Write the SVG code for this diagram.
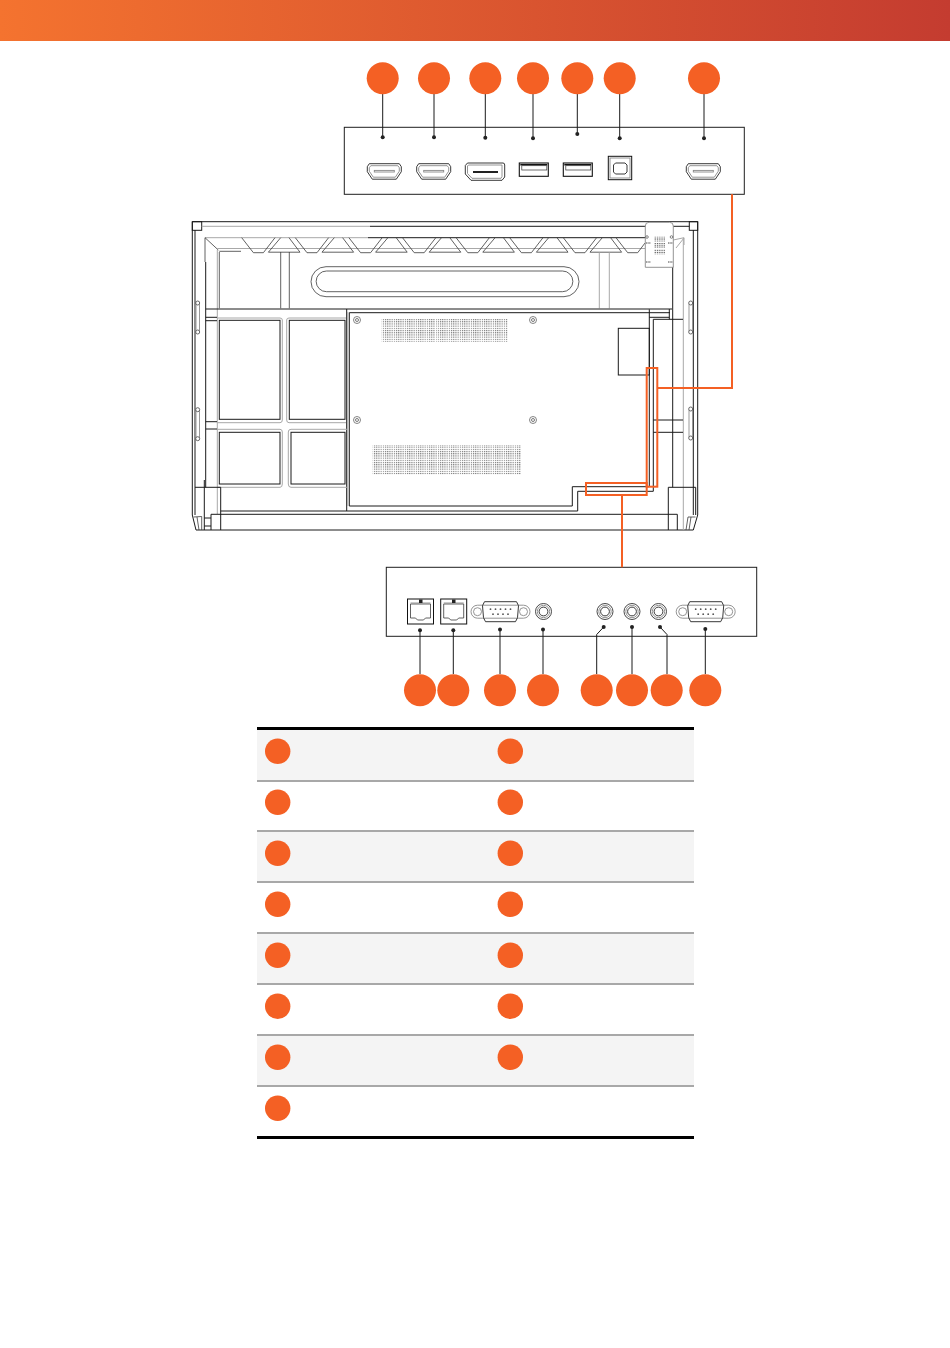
<svg xmlns="http://www.w3.org/2000/svg" width="950" height="1348" viewBox="0 0 950 1348">
<style>
.ln{fill:none;stroke:#1a1a1a;stroke-width:1}
.lg{fill:none;stroke:#a8a8a8;stroke-width:1}
.lm{fill:none;stroke:#3a3a3a;stroke-width:.8}
.port{fill:none;stroke:#222;stroke-width:.9}
.pg{fill:none;stroke:#888;stroke-width:.9}
.lead{fill:none;stroke:#1a1a1a;stroke-width:1}
.or{fill:none;stroke:#f46024;stroke-width:2}
.b{fill:#f46024}
.d{fill:#222}
</style>
<defs>
<linearGradient id="hdr" x1="0" x2="1" y1="0" y2="0"><stop offset="0" stop-color="#f4732f"/><stop offset="1" stop-color="#c43c30"/></linearGradient>
<pattern id="vent" width="2.2" height="2.2" patternUnits="userSpaceOnUse"><rect width="1.1" height="1.1" fill="#707070"/></pattern>
<pattern id="vent2" width="1.8" height="1.8" patternUnits="userSpaceOnUse"><rect width="1" height="1" fill="#555"/></pattern>
<g id="hdmi"><path class="port" d="M2 0H32L34 3V8L29 15.500H5L0 8V3Z"/><path class="pg" d="M3.500 2H30.500L32 4V7.500L28 13.500H6L2 7.500V4Z"/><rect x="7" y="6.700" width="20" height="1.600" class="pg"/></g>
<g id="usbA"><rect width="29" height="13.300" fill="#fff" stroke="#111" stroke-width="1.100"/><rect x="1" y="1" width="27" height="1.500" fill="#111"/><rect x="2.500" y="2.700" width="25" height="4.300" fill="#fff" stroke="#333" stroke-width=".7"/></g>
<g id="rj"><rect width="26" height="25" fill="#fff" stroke="#111" stroke-width="1"/><path class="lm" d="M3 5H23V19H18L16 21H10L8 19H3Z"/><path class="pg" d="M3 4H23"/></g>
<g id="jack"><circle r="8" fill="#fff" stroke="#333" stroke-width=".9"/><circle r="6.200" class="pg"/><circle r="4.400" class="port"/></g>
<g id="dsub"><circle cx="-23" r="4" class="pg"/><circle cx="23" r="4" class="pg"/><path class="pg" d="M-18-6.500H18L23-6.500A6.500 6.500 0 0 1 23 6.500H18V6.500H-18H-23A6.500 6.500 0 0 1-23-6.500Z"/><path class="port" d="M-16-10H16L18-6 17 6 15 10H-15L-17 6-18-6Z" fill="#fff"/><g fill="#555"><circle cx="-10" cy="-2.500" r=".9"/><circle cx="-5" cy="-2.500" r=".9"/><circle cx="0" cy="-2.500" r=".9"/><circle cx="5" cy="-2.500" r=".9"/><circle cx="10" cy="-2.500" r=".9"/><circle cx="-7.500" cy="2.500" r=".9"/><circle cx="-2.500" cy="2.500" r=".9"/><circle cx="2.500" cy="2.500" r=".9"/><circle cx="7.500" cy="2.500" r=".9"/></g></g>
<g id="screw"><circle r="3.500" fill="none" stroke="#666" stroke-width=".8"/><circle r="1.500" fill="none" stroke="#444" stroke-width=".7"/></g>
<g id="handle"><rect x="0" y="3" width="3.500" height="29" rx="1.500" fill="none" stroke="#999" stroke-width="1"/><circle cx="1.700" cy="3" r="2" fill="#fff" stroke="#444" stroke-width=".8"/><circle cx="1.700" cy="32" r="2" fill="#fff" stroke="#444" stroke-width=".8"/></g>
<path id="tooth" d="M0 0L11.700 15H21.700L33.300 0M39 0L26.700 14.500H58.300L47.300 0"/>
</defs>

<rect width="950" height="1348" fill="#fff"/>
<rect id="header" width="950" height="41" fill="url(#hdr)"/>

<g id="tv">
<path class="ln" d="M192.300 221.700H697.700V515L693.300 530H196L192.300 515Z"/>
<path class="ln" d="M195 230V515M693.300 230V515"/>
<rect class="ln" x="192.300" y="221.700" width="9.400" height="8.600"/>
<rect class="ln" x="689.300" y="221.700" width="8.400" height="8.600"/>
<path class="lg" d="M201.700 226.300H370"/><path class="ln" d="M370 226.300H689.300"/>
<path class="lg" d="M205 237.700H368"/><path class="ln" d="M368 237.700H645"/>
<path class="lm" d="M205 237.700L218.300 250M205 237.700V262"/>
<path class="ln" d="M205.700 262V487.300M204.300 480V530"/>
<path class="lg" d="M217.300 250V514M217.300 248.500H645M683.300 238V530M673.300 240L684 237.700V245M676 248L684 238"/>
<g class="lm"><use href="#tooth" x="241.700" y="237.700"/><use href="#tooth" x="295.300" y="237.700"/><use href="#tooth" x="348.900" y="237.700"/><use href="#tooth" x="402.500" y="237.700"/><use href="#tooth" x="456.100" y="237.700"/><use href="#tooth" x="509.700" y="237.700"/><use href="#tooth" x="563.300" y="237.700"/><path d="M616 237.700L627.700 252.700H637.700L645 243"/></g>
<path class="lm" d="M219.300 251.300H241M219.300 252V308.300M280.700 252V308.300M289.300 252V308.300"/>
<path class="lg" d="M599.300 252.500V308.300M609.300 252.500V308.300"/>
<path class="lm" d="M326 266.700H564A15 15 0 0 1 564 296.700H326A15 15 0 0 1 326 266.700Z"/>
<path class="lm" d="M326.500 271H562.500A10.300 10.300 0 0 1 562.500 291.700H326.500A10.300 10.300 0 0 1 326.500 271Z"/>
<path class="ln" d="M205.700 309H672M205.700 317.300H217M205.700 320.700H217M205.700 421.700H217M205.700 429H217"/>
<path class="ln" d="M346.700 309V511M349.300 312.700H670M669.300 309V319.300"/>
<path class="ln" d="M349.300 312.700V506H572.300V486.700H649.300V309.300M653.300 319.300V491.300H577.700V511H220.700"/>
<path class="ln" d="M649.300 317.300H669.300M653.300 319.300H683M653.300 420H683M653.300 432.300H683M672.700 267V487.300"/>
<rect class="ln" x="618.300" y="328.300" width="31" height="46.700"/>
<rect class="ln" x="219.300" y="320.300" width="60.700" height="99"/>
<rect class="ln" x="289.300" y="320.300" width="55.700" height="99"/>
<rect class="ln" x="219.300" y="432.300" width="60.700" height="51.700"/>
<rect class="ln" x="291" y="432.300" width="54" height="51.700"/>
<path class="lg" d="M217.300 318H280Q282.300 318 282.300 320V420Q282.300 422.700 280 422.700H217.300M217.300 429.300H280Q282.300 429.300 282.300 432V484Q282.300 487.300 280 487.300H217.300"/>
<path class="lg" d="M346 318H289Q286.700 318 286.700 320V420Q286.700 422.700 289 422.700H346"/>
<path class="lg" d="M347 429.300H291Q288.300 429.300 288.300 432V484Q288.300 487.300 291 487.300H347"/>
<path class="lg" d="M347.800 312V506"/>
<path class="ln" d="M195 487.300H220.700M668.300 487.300H695.700V515M220.700 487.300V530M211 514.300H677.300M211 514.300V530M204.300 518H211M204.300 526H211M668.300 487.300V530M677.300 514.300V530"/>
<path class="lm" d="M193.500 517L201.700 516.500V530M695.500 517H688L686 530"/>
<path class="lm" d="M197 517L199 530M691 517L689 530"/>
<rect x="381.700" y="319" width="53.300" height="22.700" fill="url(#vent)"/>
<rect x="436" y="319" width="71.700" height="22.700" fill="url(#vent)"/>
<rect x="372.700" y="445" width="64.300" height="29.300" fill="url(#vent)"/>
<rect x="438" y="445" width="83" height="29.300" fill="url(#vent)"/>
<use href="#screw" x="357" y="320"/><use href="#screw" x="533" y="320"/><use href="#screw" x="357" y="420"/><use href="#screw" x="533" y="420"/>
<use href="#handle" x="196" y="300"/><use href="#handle" x="196" y="406.700"/><use href="#handle" x="689" y="300"/><use href="#handle" x="689" y="406"/>
<g id="board"><path d="M645.300 267.300V226Q645.300 222.300 649 222.300H669.500Q673.300 222.300 673.300 226V267.300Z" fill="#fff" stroke="#888" stroke-width=".9"/>
<rect x="654" y="236.700" width="11" height="4.800" fill="url(#vent2)"/><rect x="654" y="243" width="11" height="5" fill="url(#vent2)"/><rect x="654" y="249.500" width="11" height="4.800" fill="url(#vent2)"/>
<g fill="none" stroke="#555" stroke-width=".7"><circle cx="647" cy="237" r="1.300"/><circle cx="671.500" cy="237" r="1.300"/></g>
<path d="M646 243H651M668 243H673M646 262H651M668 262H673" stroke="#444" stroke-width="1" stroke-dasharray="1.500 .8" fill="none"/></g>
</g>

<g id="top-panel">
<rect x="344.300" y="127.300" width="400" height="67" fill="#fff" stroke="#1e1e1e" stroke-width="1"/>
<use href="#hdmi" x="367.300" y="163.700"/><use href="#hdmi" x="416.700" y="163.700"/><use href="#hdmi" x="686.300" y="163.700"/>
<g id="dp"><path class="port" d="M467.500 163H503Q504.700 163 504.700 165V177L502 180.300H471L465.300 174V165.500Z"/><path class="pg" d="M468.500 165H502V176.500L501 178.300H472L467.500 173.500V166Z"/><rect x="473" y="171" width="25" height="2" fill="#222"/></g>
<use href="#usbA" x="519.300" y="163"/><use href="#usbA" x="563.300" y="163"/>
<g id="usbB"><rect x="608.300" y="156.300" width="23.400" height="23.400" fill="#fff" stroke="#111" stroke-width="1"/><rect x="610" y="158" width="20" height="20" class="pg"/><path class="port" d="M615.500 163H625L627 165V172L625 174H615.500L613.500 172V165Z"/></g>
</g>

<g id="bottom-panel">
<rect x="386.300" y="567.300" width="370.400" height="69" fill="#fff" stroke="#1e1e1e" stroke-width="1"/>
<use href="#rj" x="407.500" y="599"/><rect x="419" y="599.500" width="3.500" height="3.500" fill="#222"/>
<use href="#rj" x="440.700" y="599"/><rect x="452" y="599.500" width="3.500" height="3.500" fill="#222"/>
<use href="#dsub" x="500.500" y="611.700"/><use href="#dsub" x="705.700" y="611.700"/>
<use href="#jack" x="543.500" y="611.500"/><use href="#jack" x="605" y="611.500"/><use href="#jack" x="632" y="611.500"/><use href="#jack" x="658.500" y="611.500"/>
</g>

<g id="connectors">
<path class="or" d="M732 194.300V388H657.300"/>
<path class="or" d="M622 495V567.300"/>
<rect class="or" x="646.700" y="368" width="10.600" height="118.700"/>
<rect class="or" x="586" y="483" width="60.700" height="12"/>
<path class="lead" d="M382.700 94V137.300M434 94V137.300M485.300 94V137.800M533 94V138.300M577.300 94V134M619.700 94V138.300M704 94V138.300"/>
<path class="lead" d="M420 630.300V674M453.300 630.300V674M500 629.500V674M543 629.500V674M603.700 627L596.700 634.500V674M632 627V674M660 627L667 634.500V674M705.300 629V674"/>
<g class="d"><circle cx="382.700" cy="137.300" r="2"/><circle cx="434" cy="137.300" r="2"/><circle cx="485.300" cy="137.800" r="2"/><circle cx="533" cy="138.300" r="2"/><circle cx="577.300" cy="134" r="2"/><circle cx="619.700" cy="138.300" r="2"/><circle cx="704" cy="138.300" r="2"/>
<circle cx="420" cy="630.300" r="2"/><circle cx="453.300" cy="630.300" r="2"/><circle cx="500" cy="629.500" r="2"/><circle cx="543" cy="629.500" r="2"/><circle cx="603.700" cy="627" r="2"/><circle cx="632" cy="627" r="2"/><circle cx="660" cy="627" r="2"/><circle cx="705.300" cy="629" r="2"/></g>
</g>

<g id="badges-top" class="b">
<circle id="t1" cx="382.700" cy="78.300" r="16"/><circle id="t2" cx="434" cy="78.300" r="16"/><circle id="t3" cx="485.300" cy="78.300" r="16"/><circle id="t4" cx="533" cy="78.300" r="16"/><circle id="t5" cx="577.300" cy="78.300" r="16"/><circle id="t6" cx="619.700" cy="78.300" r="16"/><circle id="t7" cx="704" cy="78.300" r="16"/>
</g>
<g id="badges-bottom" class="b">
<circle id="b1" cx="420" cy="690.300" r="16"/><circle id="b2" cx="453.300" cy="690.300" r="16"/><circle id="b3" cx="500" cy="690.300" r="16"/><circle id="b4" cx="543" cy="690.300" r="16"/><circle id="b5" cx="596.700" cy="690.300" r="16"/><circle id="b6" cx="632" cy="690.300" r="16"/><circle id="b7" cx="666.700" cy="690.300" r="16"/><circle id="b8" cx="705.300" cy="690.300" r="16"/>
</g>

<g id="legend">
<g fill="#f4f4f4"><rect x="257" y="730" width="437" height="50.500"/><rect x="257" y="832" width="437" height="49.500"/><rect x="257" y="934" width="437" height="49.500"/><rect x="257" y="1036" width="437" height="49.500"/></g>
<g fill="#a8a8a8"><rect x="257" y="780" width="437" height="2"/><rect x="257" y="830" width="437" height="2"/><rect x="257" y="881" width="437" height="2"/><rect x="257" y="932" width="437" height="2"/><rect x="257" y="983" width="437" height="2"/><rect x="257" y="1034" width="437" height="2"/><rect x="257" y="1085" width="437" height="2"/></g>
<rect x="257" y="727" width="437" height="3" fill="#000"/><rect x="257" y="1136" width="437" height="3" fill="#000"/>
<g class="b"><circle cx="277.700" cy="751.300" r="12.700"/><circle cx="510.300" cy="751.300" r="12.700"/><circle cx="277.700" cy="802.300" r="12.700"/><circle cx="510.300" cy="802.300" r="12.700"/><circle cx="277.700" cy="853.300" r="12.700"/><circle cx="510.300" cy="853.300" r="12.700"/><circle cx="277.700" cy="904.300" r="12.700"/><circle cx="510.300" cy="904.300" r="12.700"/><circle cx="277.700" cy="955.300" r="12.700"/><circle cx="510.300" cy="955.300" r="12.700"/><circle cx="277.700" cy="1006.300" r="12.700"/><circle cx="510.300" cy="1006.300" r="12.700"/><circle cx="277.700" cy="1057.300" r="12.700"/><circle cx="510.300" cy="1057.300" r="12.700"/><circle cx="277.700" cy="1108.300" r="12.700"/></g>
</g>
</svg>
